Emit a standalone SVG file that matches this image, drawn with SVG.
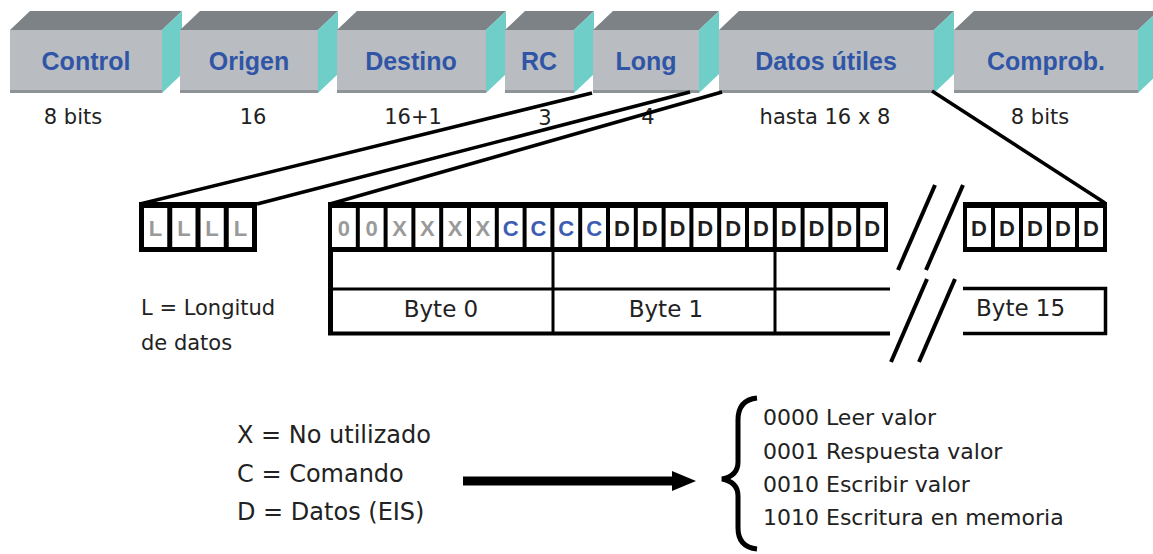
<svg xmlns="http://www.w3.org/2000/svg" width="1153" height="554" viewBox="0 0 1153 554">
<style>
.top{fill:#7c8285}
.front{fill:#b9bdc1}
.edge{fill:#8e9397}
.side{fill:#6fcfc8}
.bt{font-family:"Liberation Sans",Arial,sans-serif;font-weight:bold;font-size:25px;fill:#3155a6;text-anchor:middle}
.lbl{font-family:"DejaVu Sans","Liberation Sans",sans-serif;font-size:21px;fill:#222;text-anchor:middle}
.txt{font-family:"DejaVu Sans","Liberation Sans",sans-serif;font-size:22px;fill:#222}
.leg{font-size:24px}
.byte{font-size:23px}
.cell{fill:#fff}
.bit{font-family:"Liberation Sans",Arial,sans-serif;font-weight:bold;font-size:22px;text-anchor:middle}
.g{fill:#9a9a9a}
.c{fill:#3d5db3}
.d{fill:#1e1e1e}
.ln{stroke:#000;fill:none}
</style>
<rect width="1153" height="554" fill="#fff"/>

<g id="box-control">
<polygon class="top" points="10,30 30,11 182,11 162,30"/>
<rect class="front" x="10" y="30" width="152" height="63"/>
<rect class="edge" x="10" y="90" width="152" height="3"/>
<polygon class="side" points="162,30 182,11 182,74 162,93"/>
<text class="bt" x="86" y="70">Control</text>
</g>
<g id="box-origen">
<polygon class="top" points="180,30 200,11 338,11 318,30"/>
<rect class="front" x="180" y="30" width="138" height="63"/>
<rect class="edge" x="180" y="90" width="138" height="3"/>
<polygon class="side" points="318,30 338,11 338,74 318,93"/>
<text class="bt" x="249" y="70">Origen</text>
</g>
<g id="box-destino">
<polygon class="top" points="337,30 357,11 506,11 486,30"/>
<rect class="front" x="337" y="30" width="149" height="63"/>
<rect class="edge" x="337" y="90" width="149" height="3"/>
<polygon class="side" points="486,30 506,11 506,74 486,93"/>
<text class="bt" x="411" y="70">Destino</text>
</g>
<g id="box-rc">
<polygon class="top" points="505,30 525,11 594,11 574,30"/>
<rect class="front" x="505" y="30" width="69" height="63"/>
<rect class="edge" x="505" y="90" width="69" height="3"/>
<polygon class="side" points="574,30 594,11 594,74 574,93"/>
<text class="bt" x="539" y="70">RC</text>
</g>
<g id="box-long">
<polygon class="top" points="593,30 613,11 719,11 699,30"/>
<rect class="front" x="593" y="30" width="106" height="63"/>
<rect class="edge" x="593" y="90" width="106" height="3"/>
<polygon class="side" points="699,30 719,11 719,74 699,93"/>
<text class="bt" x="646" y="70">Long</text>
</g>
<g id="box-datos">
<polygon class="top" points="719,30 739,11 954,11 934,30"/>
<rect class="front" x="719" y="30" width="215" height="63"/>
<rect class="edge" x="719" y="90" width="215" height="3"/>
<polygon class="side" points="934,30 954,11 954,74 934,93"/>
<text class="bt" x="826" y="70">Datos útiles</text>
</g>
<g id="box-comprob">
<polygon class="top" points="954,30 974,11 1158,11 1138,30"/>
<rect class="front" x="954" y="30" width="184" height="63"/>
<rect class="edge" x="954" y="90" width="184" height="3"/>
<polygon class="side" points="1138,30 1158,11 1158,74 1138,93"/>
<text class="bt" x="1046" y="70">Comprob.</text>
</g>

<g id="sizes">
<text class="lbl" x="73" y="124">8 bits</text>
<text class="lbl" x="253" y="124">16</text>
<text class="lbl" x="413" y="124">16+1</text>
<text class="lbl" x="545" y="125">3</text>
<text class="lbl" x="648" y="124">4</text>
<text class="lbl" x="825" y="124">hasta 16 x 8</text>
<text class="lbl" x="1040" y="124">8 bits</text>
</g>

<g id="long-bits">
<rect x="139" y="202" width="118" height="50" fill="#000"/>
<rect class="cell" x="144" y="208" width="23.25" height="39"/>
<rect class="cell" x="172.25" y="208" width="23.25" height="39"/>
<rect class="cell" x="200.5" y="208" width="23.25" height="39"/>
<rect class="cell" x="228.75" y="208" width="23.25" height="39"/>
<text class="bit g" x="155.6" y="236">L</text>
<text class="bit g" x="183.9" y="236">L</text>
<text class="bit g" x="212.1" y="236">L</text>
<text class="bit g" x="240.4" y="236">L</text>
</g>

<g id="long-legend">
<text class="txt" x="141" y="315" style="font-size:21px">L = Longitud</text>
<text class="txt" x="141" y="350" style="font-size:21px">de datos</text>
</g>

<g id="data-bits">
<rect x="328" y="202" width="560" height="50" fill="#000"/>
<rect class="cell" x="332" y="208" width="23.8" height="39"/>
<rect class="cell" x="359.8" y="208" width="23.8" height="39"/>
<rect class="cell" x="387.6" y="208" width="23.8" height="39"/>
<rect class="cell" x="415.4" y="208" width="23.8" height="39"/>
<rect class="cell" x="443.2" y="208" width="23.8" height="39"/>
<rect class="cell" x="471" y="208" width="23.8" height="39"/>
<rect class="cell" x="498.8" y="208" width="23.8" height="39"/>
<rect class="cell" x="526.6" y="208" width="23.8" height="39"/>
<rect class="cell" x="554.4" y="208" width="23.8" height="39"/>
<rect class="cell" x="582.2" y="208" width="23.8" height="39"/>
<rect class="cell" x="610" y="208" width="23.8" height="39"/>
<rect class="cell" x="637.8" y="208" width="23.8" height="39"/>
<rect class="cell" x="665.6" y="208" width="23.8" height="39"/>
<rect class="cell" x="693.4" y="208" width="23.8" height="39"/>
<rect class="cell" x="721.2" y="208" width="23.8" height="39"/>
<rect class="cell" x="749" y="208" width="23.8" height="39"/>
<rect class="cell" x="776.8" y="208" width="23.8" height="39"/>
<rect class="cell" x="804.6" y="208" width="23.8" height="39"/>
<rect class="cell" x="832.4" y="208" width="23.8" height="39"/>
<rect class="cell" x="860.2" y="208" width="23.8" height="39"/>
<text class="bit g" x="343.9" y="236">0</text>
<text class="bit g" x="371.7" y="236">0</text>
<text class="bit g" x="399.5" y="236">X</text>
<text class="bit g" x="427.3" y="236">X</text>
<text class="bit g" x="455.1" y="236">X</text>
<text class="bit g" x="482.9" y="236">X</text>
<text class="bit c" x="510.7" y="236">C</text>
<text class="bit c" x="538.5" y="236">C</text>
<text class="bit c" x="566.3" y="236">C</text>
<text class="bit c" x="594.1" y="236">C</text>
<text class="bit d" x="621.9" y="236">D</text>
<text class="bit d" x="649.7" y="236">D</text>
<text class="bit d" x="677.5" y="236">D</text>
<text class="bit d" x="705.3" y="236">D</text>
<text class="bit d" x="733.1" y="236">D</text>
<text class="bit d" x="760.9" y="236">D</text>
<text class="bit d" x="788.7" y="236">D</text>
<text class="bit d" x="816.5" y="236">D</text>
<text class="bit d" x="844.3" y="236">D</text>
<text class="bit d" x="872.1" y="236">D</text>
</g>

<g id="byte-table">
<line class="ln" x1="330.5" y1="252" x2="330.5" y2="335" stroke-width="5"/>
<line class="ln" x1="328" y1="289" x2="890" y2="289" stroke-width="3"/>
<line class="ln" x1="328" y1="333.5" x2="890" y2="333.5" stroke-width="4"/>
<line class="ln" x1="553" y1="252" x2="553" y2="334" stroke-width="3"/>
<line class="ln" x1="775" y1="252" x2="775" y2="334" stroke-width="3"/>
<text class="lbl byte" x="441" y="317">Byte 0</text>
<text class="lbl byte" x="666" y="317">Byte 1</text>
</g>

<g id="last-bits">
<rect x="963" y="202" width="144" height="50" fill="#000"/>
<rect class="cell" x="967" y="208" width="24" height="39"/>
<rect class="cell" x="995" y="208" width="24" height="39"/>
<rect class="cell" x="1023" y="208" width="24" height="39"/>
<rect class="cell" x="1051" y="208" width="24" height="39"/>
<rect class="cell" x="1079" y="208" width="24" height="39"/>
<text class="bit d" x="979" y="236">D</text>
<text class="bit d" x="1007" y="236">D</text>
<text class="bit d" x="1035" y="236">D</text>
<text class="bit d" x="1063" y="236">D</text>
<text class="bit d" x="1091" y="236">D</text>
</g>

<g id="byte15">
<polyline class="ln" points="963,288.5 1105.5,288.5 1105.5,333.5 963,333.5" stroke-width="3.5"/>
<text class="lbl byte" x="976" y="316" style="text-anchor:start">Byte 15</text>
</g>

<g id="breaks">
<line class="ln" x1="935" y1="185" x2="898" y2="270" stroke-width="4"/>
<line class="ln" x1="963" y1="185" x2="926" y2="270" stroke-width="4"/>
<line class="ln" x1="927" y1="279" x2="891" y2="362" stroke-width="4"/>
<line class="ln" x1="955" y1="279" x2="919" y2="362" stroke-width="4"/>
</g>

<g id="legend">
<text class="txt leg" x="237" y="443">X = No utilizado</text>
<text class="txt leg" x="237" y="482">C = Comando</text>
<text class="txt leg" x="237" y="520">D = Datos (EIS)</text>
</g>

<g id="commands">
<path class="ln" d="M757 398 Q738 400 738 420 L738 462 Q738 476 722 479 Q738 482 738 496 L738 528 Q738 547 757 549" stroke-width="5"/>
<text class="txt" x="763" y="425">0000 Leer valor</text>
<text class="txt" x="763" y="459">0001 Respuesta valor</text>
<text class="txt" x="763" y="492">0010 Escribir valor</text>
<text class="txt" x="763" y="525">1010 Escritura en memoria</text>
</g>

<g id="connectors">
<line class="ln" x1="592" y1="93" x2="140" y2="204" stroke-width="3.5"/>
<line class="ln" x1="690" y1="92" x2="257" y2="204" stroke-width="3.5"/>
<line class="ln" x1="722" y1="92" x2="330" y2="204" stroke-width="3.5"/>
<line class="ln" x1="932" y1="91" x2="1105" y2="203" stroke-width="3.5"/>
<line class="ln" x1="463" y1="481" x2="676" y2="481" stroke-width="9"/>
<polygon points="672,471 696,481 672,491" fill="#000"/>
</g>
</svg>
